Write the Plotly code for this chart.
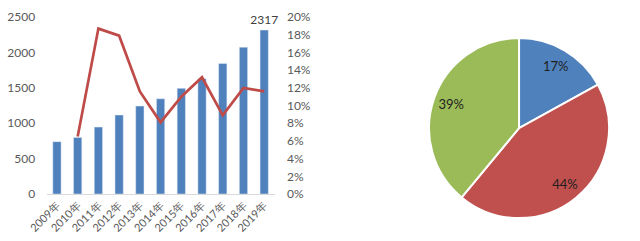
import plotly.graph_objects as go

years = ["2009年", "2010年", "2011年", "2012年", "2013年", "2014年", "2015年", "2016年", "2017年", "2018年", "2019年"]
values = [740, 800, 946, 1116, 1243, 1346, 1493, 1630, 1846, 2075, 2317]
growth = [None, 0.065, 0.187, 0.179, 0.116, 0.081, 0.110, 0.132, 0.089, 0.120, 0.116]
bar_text = ["", "", "", "", "", "", "", "", "", "", "2317"]

pie_labels = ["A", "B", "C"]
pie_values = [17, 44, 39]

FONT = "Lato, Open Sans, sans-serif"
PIE_DOMAIN = dict(x=[0.670, 0.952], y=[0.095, 0.842])
fig = go.Figure()
fig.add_trace(go.Bar(x=years, y=values, marker_color="#4F81BD", width=0.4,
                     text=bar_text, textposition="outside", cliponaxis=False,
                     constraintext="none",
                     textfont=dict(size=12, color="#404040", family=FONT)))
fig.add_trace(go.Scatter(x=years, y=growth, yaxis="y2", mode="lines",
                         line=dict(color="#BE4B48", width=2.7), connectgaps=False))
# filled pie (no text)
fig.add_trace(go.Pie(labels=pie_labels, values=pie_values, sort=False, direction="clockwise",
                     rotation=0, marker=dict(colors=["#4F81BD", "#C0504D", "#9BBB59"],
                                             line=dict(color="white", width=2)),
                     textinfo="none", domain=PIE_DOMAIN, showlegend=False, hoverinfo="skip"))
# transparent ring carrying the percentage labels further out, like Excel
fig.add_trace(go.Pie(labels=pie_labels, values=pie_values, sort=False, direction="clockwise",
                     rotation=0, hole=0.6,
                     marker=dict(colors=["rgba(0,0,0,0)"] * 3, line=dict(width=0)),
                     textinfo="percent", texttemplate="%{percent:.0%}", textposition="inside",
                     insidetextorientation="horizontal",
                     textfont=dict(size=13, color="#1F1F1F", family=FONT),
                     domain=PIE_DOMAIN, showlegend=False))

fig.update_layout(
    width=640, height=241, margin=dict(l=0, r=0, t=0, b=0, autoexpand=False),
    paper_bgcolor="white", plot_bgcolor="white", showlegend=False,
    font=dict(family=FONT, size=12, color="#595959"),
    xaxis=dict(domain=[0.0728, 0.429], showline=True, linecolor="#D9D9D9", linewidth=1,
               tickangle=-45, tickfont=dict(size=11), showgrid=False, ticks="",
               automargin=False),
    yaxis=dict(domain=[0.195, 0.929], range=[0, 2500], dtick=500, showgrid=False,
               zeroline=False, ticks="outside", ticklen=8, tickcolor="rgba(0,0,0,0)",
               automargin=False),
    yaxis2=dict(overlaying="y", side="right", range=[0, 0.2], dtick=0.02, tickformat=".0%",
                showgrid=False, zeroline=False, ticks="outside", ticklen=9,
                tickcolor="rgba(0,0,0,0)", automargin=False),
    bargap=0.6,
)
fig.write_html("out.html")
